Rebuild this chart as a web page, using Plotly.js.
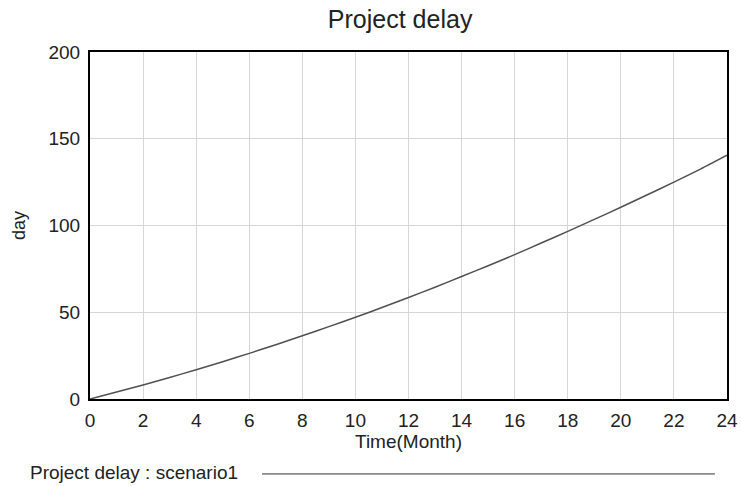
<!DOCTYPE html>
<html>
<head>
<meta charset="utf-8">
<script src="https://cdn.plot.ly/plotly-3.0.1.min.js"></script>
<style>html,body{margin:0;padding:0;background:#fff;}#chart{width:741px;height:486px;}</style>
</head>
<body>
<div id="chart"></div>
<script>
const months = [0,1,2,3,4,5,6,7,8,9,10,11,12,13,14,15,16,17,18,19,20,21,22,23,24];
const projectDelay = [0,4,8.1,12.4,16.9,21.5,26.3,31.3,36.5,41.7,47.1,52.7,58.5,64.4,70.6,76.8,83.2,89.9,96.6,103.5,110.5,117.7,125,132.5,140.5];
const xTicks = [0,2,4,6,8,10,12,14,16,18,20,22,24];
const yTicks = [0,50,100,150,200];
const seriesName = "Project delay : scenario1";

const font = "Liberation Sans, Arial, sans-serif";
const txt = '#222';
const trace = {
  x: months, y: projectDelay, type: 'scatter', mode: 'lines',
  name: seriesName, line: {color: '#505050', width: 1.5, shape: 'spline', smoothing: 0.6}, showlegend: false
};
const layout = {
  width: 741, height: 486,
  margin: {l: 90, r: 14, t: 52, b: 87},
  paper_bgcolor: '#fff', plot_bgcolor: '#fff',
  font: {family: font, color: txt, size: 20},
  title: {text: 'Project delay', x: 0.54, xanchor: 'center', y: 0.978, yanchor: 'top', font: {size: 25, family: font, color: txt}},
  xaxis: {
    range: [0, 24], tickvals: xTicks, ticktext: xTicks.map(String),
    showgrid: true, gridcolor: '#d6d6d6', gridwidth: 1, zeroline: false,
    showline: true, linecolor: '#000', linewidth: 2, mirror: true,
    ticks: 'outside', ticklen: 3, tickcolor: 'rgba(0,0,0,0)', tickfont: {size: 19, family: font, color: txt},
    title: {text: 'Time(Month)', font: {size: 19, family: font, color: txt}, standoff: 3}
  },
  yaxis: {
    range: [0, 200], tickvals: yTicks, ticktext: yTicks.map(String),
    showgrid: true, gridcolor: '#d6d6d6', gridwidth: 1, zeroline: false,
    showline: true, linecolor: '#000', linewidth: 2, mirror: true,
    ticks: 'outside', ticklen: 4, tickcolor: 'rgba(0,0,0,0)', tickfont: {size: 19, family: font, color: txt},
    title: {text: 'day', font: {size: 18, family: font, color: txt}, standoff: 18}
  },
  annotations: [{
    text: seriesName, xref: 'paper', yref: 'paper', x: -0.0973, y: -0.213,
    xanchor: 'left', yanchor: 'middle', showarrow: false,
    font: {size: 19, family: font, color: txt}
  }],
  shapes: [{
    type: 'line', xref: 'paper', yref: 'paper', x0: 0.27, x1: 0.981, y0: -0.216, y1: -0.216,
    line: {color: '#333', width: 1}
  }]
};
Plotly.newPlot('chart', [trace], layout, {displayModeBar: false, staticPlot: true});
</script>
</body>
</html>
